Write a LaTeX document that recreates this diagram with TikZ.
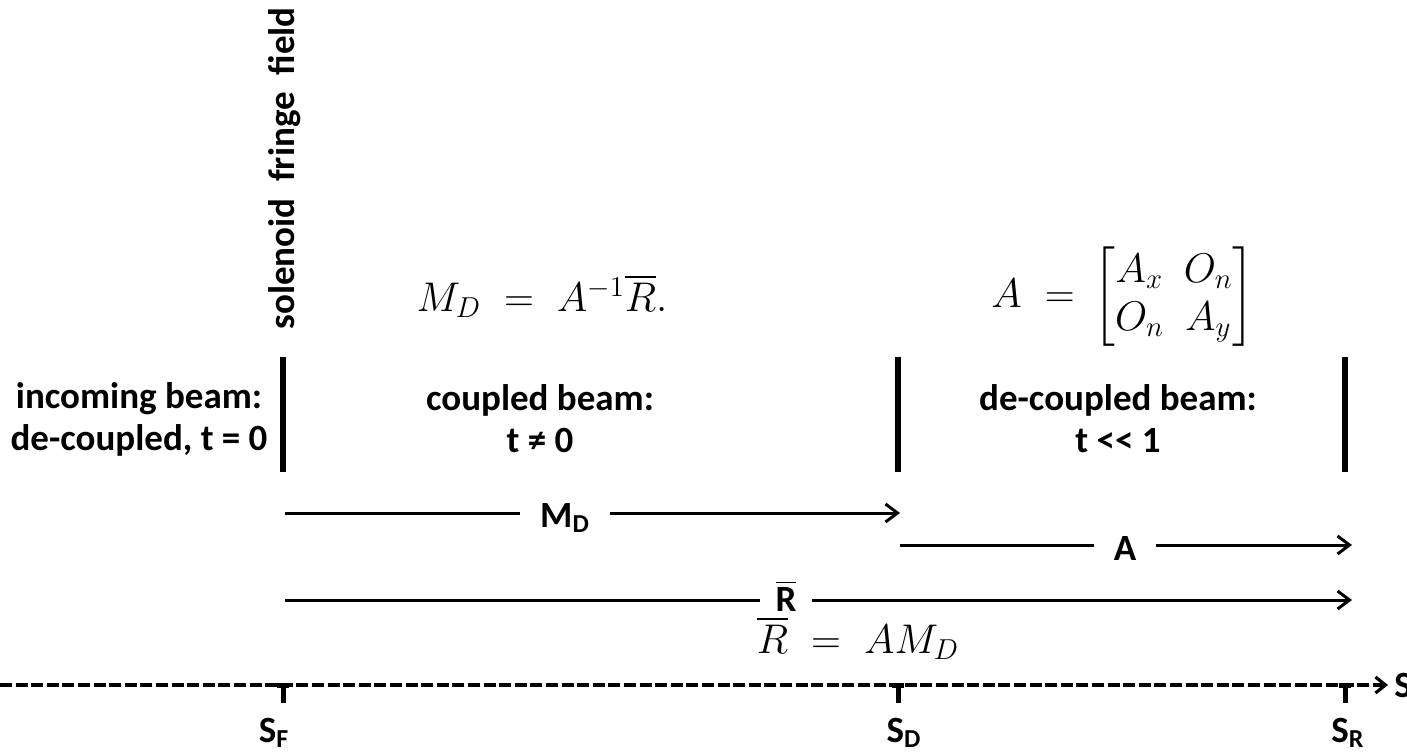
\documentclass[tikz,border=0pt]{standalone}
\usepackage{amsmath}
\usepackage[no-math]{fontspec}
\setmainfont{Carlito}
\usetikzlibrary{arrows.meta}
\begin{document}
\begin{tikzpicture}[x=0.5pt,y=-0.5pt,
  lbl/.style={font=\bfseries\fontsize{18.5}{21}\selectfont, align=center},
  eq/.style={font=\fontsize{19.5}{24}\selectfont},
  bar/.style={line width=2.6pt},
  arr/.style={line width=1.5pt, -{Straight Barb[length=6pt,width=9pt,line width=1.5pt]}},
  gaplbl/.style={lbl, fill=white, inner xsep=10pt, inner ysep=1pt},
  tick/.style={line width=2.5pt}]
\useasboundingbox (0,0) rectangle (1407,754);
% vertical bars
\draw[bar] (283,357) -- (283,472);
\draw[bar] (898,357) -- (898,472);
\draw[bar] (1345,357) -- (1345,472);
% vertical label
\node[lbl, rotate=90, anchor=west, inner sep=0pt] (sol) at (285,330) {solenoid\ \ fringe\ \ field};
% region labels
\node[lbl] (inc) at (139,419) {incoming beam:\\de-coupled, t = 0};
\node[lbl] (cpl) at (540,419) {coupled beam:\\t ≠ 0};
\node[lbl] (dec) at (1118,419) {de-coupled beam:\\t <{}< 1};
% equations
\node[eq] (eqMD) at (542,296) {$M_D\;=\;A^{-1}\overline{R}.$};
\node[eq] (eqA) at (1123,297) {$A\;=\,\begin{bmatrix}A_x & O_n\\ O_n & A_y\end{bmatrix}$};
\node[eq] (eqR) at (858,638) {$\overline{R}\;=\;AM_D$};
% arrow endpoints
\coordinate (mdS) at (285,513);
\coordinate (mdE) at (900,513);
\coordinate (aS) at (900,545);
\coordinate (aE) at (1352,545);
\coordinate (rS) at (285,600);
\coordinate (rE) at (1352,600);
\draw[arr] (mdS) -- (mdE);
\draw[arr] (aS) -- (aE);
\draw[arr] (rS) -- (rE);
\node[gaplbl] (lMD) at (565,518) {M\textsubscript{D}};
\node[gaplbl] (lA) at (1125,548) {A};
\node[gaplbl, inner xsep=8pt] (lR) at (786,596) {$\overline{\mbox{R}}$};
% axis
\coordinate (axS) at (0,685);
\coordinate (axE) at (1388,685);
\draw[line width=2pt, dash pattern=on 6pt off 1.8pt, -{Straight Barb[length=5pt,width=8pt,line width=1.6pt]}] (axS) -- (axE);
\node[lbl, anchor=west, inner xsep=1pt] (sAx) at (1392,685) {S};
% ticks
\foreach \x in {283,898,1345}{
  \draw[tick] (\x-6,685) -- (\x+6,685);
  \draw[tick] (\x,684) -- (\x,703);
}
\node[lbl] (sF) at (274,733) {S\textsubscript{F}};
\node[lbl] (sD) at (904,733) {S\textsubscript{D}};
\node[lbl] (sR) at (1348,733) {S\textsubscript{R}};
\end{tikzpicture}
\end{document}
